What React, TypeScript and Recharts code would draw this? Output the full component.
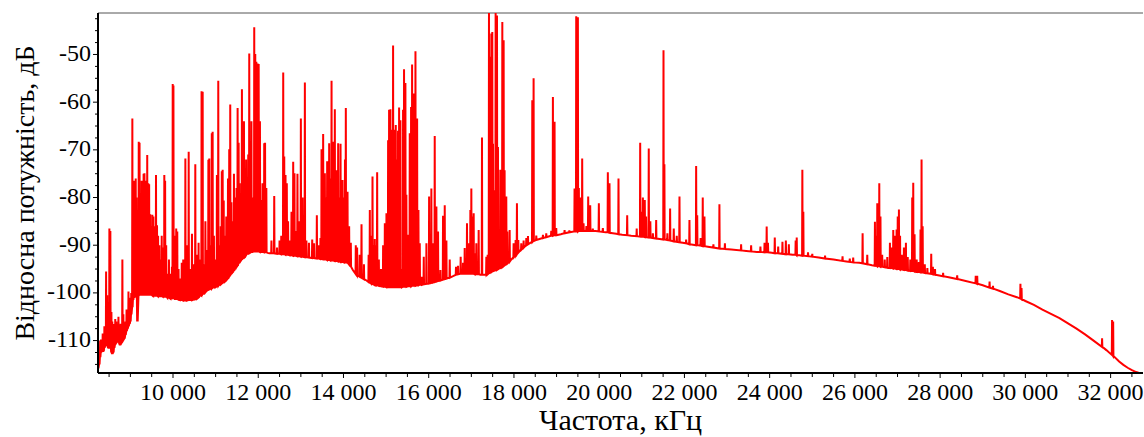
import { LineChart, Line, XAxis, YAxis, ReferenceLine } from "recharts";

// each mark: [frequency kHz, floor dB] or [frequency kHz, floor dB, peak dB]
type Mark = [number, number] | [number, number, number];

const band8: Mark[] = [
  [8250, -115.8],
  [8270, -115, -112],
  [8290, -113.5, -110],
  [8310, -112.5, -109.8],
  [8330, -112, -110],
  [8350, -112.2, -108.5],
  [8370, -112.2, -109.5],
  [8390, -111.5, -107],
  [8410, -111.2, -108.5],
  [8430, -110.5, -95.5],
  [8455, -110.8, -100.5],
  [8480, -111.5, -104],
  [8507, -111.5, -86.5],
  [8530, -110.5, -87],
  [8555, -112.5, -104],
  [8575, -112.8, -106],
  [8600, -112.5, -108],
  [8620, -111.5, -106.5],
  [8645, -110.8, -105.5],
  [8670, -110.5, -106],
  [8695, -110.2, -107.5],
  [8720, -109.8, -105],
  [8745, -110.8, -108],
  [8770, -110.8, -106.5],
  [8812, -110.2, -93],
  [8835, -109.8, -104.5],
  [8860, -109.6, -107.5],
  [8885, -108.8, -106],
  [8910, -108, -103.5],
  [8935, -107.5, -104.5],
  [8955, -107, -99.7],
  [8980, -106.5, -101],
  [9000, -106, -102],
  [9020, -104.5, -100],
];

const band9: Mark[] = [
  [9046, -103, -63.4],
  [9065, -101.5, -80],
  [9080, -101, -76.5],
  [9100, -100.8, -92],
  [9125, -100.5, -76],
  [9145, -100.4, -80],
  [9165, -106, -95],
  [9196, -100.5, -68.3],
  [9215, -100.4, -68.5],
  [9240, -100.4, -80],
  [9265, -100.4, -76.5],
  [9290, -100.4, -82],
  [9310, -100.4, -75],
  [9330, -100.4, -74.9],
  [9355, -100.4, -76.5],
  [9380, -100.4, -77],
  [9395, -100.4, -71.1],
  [9420, -100.4, -77],
  [9440, -100.4, -77.2],
  [9465, -100.4, -83.5],
  [9490, -100.4, -86],
  [9515, -100.5, -83.6],
  [9540, -100.6, -84],
  [9565, -100.6, -86],
  [9601, -100.6, -75.3],
  [9625, -100.6, -85.8],
  [9650, -100.7, -88],
  [9680, -100.7, -90],
  [9710, -100.7, -93],
  [9735, -100.7, -88],
  [9765, -100.8, -90.5],
  [9796, -100.8, -75.3],
  [9815, -100.8, -76.5],
  [9840, -100.8, -90],
  [9870, -101, -96],
  [9905, -101, -93],
  [9945, -101.2, -96],
  [9975, -101.2, -94.5],
  [9993, -101, -56.2],
  [10010, -101, -56.5],
  [10040, -101.3, -88],
  [10075, -101.3, -86.5],
  [10100, -101.3, -87.1],
  [10130, -101.4, -95],
  [10170, -101.5, -97],
  [10205, -101.5, -93.7],
  [10240, -101.6, -93],
];

const band10: Mark[] = [
  [10290, -101.6, -71.8],
  [10320, -101.6, -90],
  [10368, -101.5, -70.4],
  [10400, -101.5, -95],
  [10445, -101.5, -87.6],
  [10480, -101.4, -94],
  [10523, -101.3, -73],
  [10560, -101.2, -92],
  [10600, -101, -89.5],
  [10640, -100.5, -93],
  [10670, -100.6, -57.7],
  [10696, -100.2, -57.8],
  [10730, -100.2, -94],
  [10760, -99.8, -85],
  [10800, -99.5, -91],
  [10830, -99.4, -72.1],
  [10851, -99.2, -71.8],
  [10880, -99.1, -90],
  [10910, -99, -66.5],
  [10930, -98.9, -66.2],
  [10960, -98.8, -88],
  [10990, -98.8, -93],
  [11030, -98.6, -75.3],
  [11062, -98.5, -55.5],
  [11090, -98.3, -90],
  [11120, -98.2, -86],
  [11145, -98.1, -74.5],
  [11165, -97.8, -74.2],
  [11190, -97.8, -80.6],
  [11220, -97.5, -88],
  [11250, -97.3, -84],
  [11290, -97, -76],
  [11319, -96.5, -69.9],
  [11343, -96.2, -60.5],
  [11370, -96, -81],
  [11400, -95.7, -85],
  [11430, -95.3, -75],
  [11460, -95, -80],
  [11490, -94.6, -78],
  [11516, -94.3, -61.2],
  [11540, -93.8, -68.5],
  [11565, -93.5, -77],
  [11590, -93.2, -82],
  [11617, -93, -57.3],
  [11640, -92.8, -68.6],
  [11665, -92.5, -64],
  [11690, -92.2, -79],
  [11715, -92, -72],
  [11740, -91.8, -80],
  [11765, -91.8, -71],
  [11789, -91.6, -49.8],
  [11815, -91.5, -68.7],
  [11840, -91.4, -64],
  [11865, -91.4, -80],
  [11906, -91.3, -44.3],
  [11930, -91.3, -49.9],
  [11955, -91.3, -51.5],
  [11985, -91.3, -51.9],
  [12010, -91.3, -52],
  [12040, -91.4, -64],
  [12070, -91.4, -80.5],
  [12100, -91.4, -77],
  [12140, -91.5, -68.6],
  [12160, -91.5, -68.5],
  [12190, -91.5, -78],
  [12220, -91.6],
];

const band12: Mark[] = [
  [12260, -91.7],
  [12310, -91.7, -89],
  [12375, -91.7, -79.7],
  [12440, -91.8, -90.5],
  [12500, -91.8, -89],
  [12540, -91.9, -88],
  [12586, -91.9, -53.8],
  [12610, -91.9, -71.4],
  [12640, -92, -75.3],
  [12670, -92, -77],
  [12700, -92, -85],
  [12740, -92.1, -89],
  [12780, -92.1, -83],
  [12820, -92.2, -72.5],
  [12850, -92.2, -74.9],
  [12880, -92.2, -87],
  [12920, -92.3, -75],
  [12960, -92.3, -85],
  [13000, -92.4, -63.4],
  [13040, -92.4, -80],
  [13094, -92.5, -55.9],
  [13130, -92.5, -89],
  [13190, -92.6, -89.5],
  [13266, -92.7, -88.8],
  [13310, -92.7, -89.6],
  [13375, -92.8, -83.7],
  [13420, -92.8, -90],
  [13460, -92.9, -88.5],
  [13485, -92.9, -69.9],
  [13505, -92.9, -78],
  [13523, -93, -66.7],
  [13563, -93, -74.9],
  [13590, -93, -80],
  [13617, -93.1, -72.4],
  [13664, -93.1, -68.6],
  [13695, -93.2, -76],
  [13720, -93.2, -55.5],
  [13758, -93.2, -68.3],
  [13797, -93.3, -61.5],
  [13837, -93.3, -74.3],
  [13875, -93.4, -68.6],
  [13900, -93.4, -80],
  [13931, -93.5, -68.7],
  [13978, -93.5, -76.3],
  [14015, -93.6, -80],
  [14035, -93.6, -72],
  [14055, -93.6, -61.2],
  [14095, -93.7, -78.8],
  [14133, -94, -86],
  [14172, -94.5, -89.5],
  [14220, -95.2],
];

const band14: Mark[] = [
  [14260, -95.7],
  [14289, -96, -90],
  [14320, -96.3, -90.5],
  [14380, -96.6, -92],
  [14423, -96.8, -85.6],
  [14480, -97.1, -94],
  [14540, -97.4],
  [14590, -97.7, -92],
  [14618, -97.8, -82.6],
  [14650, -98, -88],
  [14681, -98.1, -75.6],
  [14710, -98.2, -90],
  [14735, -98.3, -88.7],
  [14765, -98.4, -90],
  [14790, -98.4, -74.7],
  [14830, -98.5, -93],
  [14880, -98.6, -95],
  [14930, -98.7, -90],
  [14970, -98.7, -85.4],
  [15008, -98.8, -83.3],
  [15047, -98.8, -68],
  [15070, -98.8, -61.6],
  [15102, -98.8, -61.5],
  [15133, -98.8, -65.8],
  [15164, -98.8, -48.1],
  [15195, -98.8, -65.8],
  [15227, -98.8, -64.8],
  [15258, -98.8, -72],
  [15280, -98.8, -66],
  [15305, -98.8, -61.1],
  [15336, -98.8, -63.8],
  [15367, -98.8, -95],
  [15398, -98.7, -61.6],
  [15421, -98.7, -53.1],
  [15453, -98.7, -56],
  [15476, -98.7, -79.4],
  [15515, -98.6, -87.8],
  [15555, -98.6, -66.5],
  [15586, -98.6, -61],
  [15610, -98.5, -52.1],
  [15649, -98.5, -58.2],
  [15689, -98.5, -49.3],
  [15728, -98.4, -63.4],
  [15759, -98.4, -82.6],
  [15790, -98.3, -89.6],
  [15837, -98.3, -96.6],
  [15884, -98.2, -92.4],
  [15946, -98.1, -89.6],
  [16009, -98, -79.8],
  [16062, -97.9, -78.1],
  [16102, -97.8, -89.6],
  [16141, -97.7, -67.1],
  [16180, -97.6, -81.9],
  [16219, -97.5, -87.1],
  [16274, -97.4, -95.2],
  [16336, -97.2, -83.8],
  [16376, -97.1, -81.6],
  [16415, -97, -89],
  [16493, -96.8, -93],
];

const band16: Mark[] = [
  [16571, -96.5],
  [16640, -96.2, -94.5],
  [16688, -96.1, -94.3],
  [16750, -96, -92.4],
  [16805, -96, -93.7],
  [16844, -96, -90.6],
  [16898, -96, -85.4],
  [16945, -96, -89.6],
  [16977, -96, -82.6],
  [17000, -96, -78.1],
  [17031, -96, -84],
  [17055, -96, -83.3],
  [17086, -96.1, -91.7],
  [17117, -96.1, -89.6],
  [17172, -96.1, -86.8],
  [17211, -96.2],
  [17250, -96.2, -67.4],
  [17297, -96.2],
  [17352, -96.2, -92.4],
  [17383, -96, -92],
  [17414, -95.8, -41.3],
  [17438, -95.7, -50.5],
  [17469, -95.6, -45.6],
  [17492, -95.5, -45.3],
  [17508, -95.4, -68.7],
  [17539, -95.3, -78.5],
  [17570, -95.2, -41.3],
  [17602, -95.1, -41.8],
  [17625, -95, -69.4],
  [17648, -94.9],
  [17680, -94.8, -74.2],
  [17703, -94.6, -82.6],
  [17727, -94.5, -43.2],
  [17758, -94.3, -47],
  [17781, -94.2, -74.3],
  [17820, -94, -79.8],
  [17844, -93.8, -87.1],
  [17899, -93.4, -86.8],
  [17938, -93],
  [17992, -92.5, -89.6],
  [18039, -92.1, -88.9],
  [18070, -91.8, -81.2],
  [18102, -91.5, -88.9],
  [18172, -90.9, -89.6],
  [18227, -90.5, -89],
  [18290, -90, -88.5],
  [18329, -89.8, -88.1],
  [18400, -89.4],
  [18430, -89.3, -59.6],
  [18461, -89.1, -55],
  [18524, -88.9, -88],
  [18600, -88.7],
  [18680, -88.5, -87.8],
  [18758, -88.3, -87.5],
  [18875, -88, -87],
  [18914, -88, -58.9],
  [18953, -87.9, -64.1],
  [18992, -87.9, -86.4],
  [19100, -87.7],
  [19188, -87.5, -86.8],
  [19300, -87.3, -86.9],
  [19422, -87.1, -78.1],
  [19461, -87.1, -42],
  [19500, -87.1, -42.2],
  [19523, -87, -78],
  [19560, -87, -80],
  [19601, -87, -71.8],
  [19633, -87, -85.4],
  [19700, -87, -86],
  [19742, -87, -79.8],
  [19789, -87, -81.6],
  [19850, -87, -86.5],
  [19920, -87],
  [19992, -87.1, -81.2],
  [20086, -87.2, -86.4],
  [20150, -87.3],
  [20203, -87.3, -74.7],
  [20242, -87.4, -77],
  [20320, -87.5],
  [20400, -87.6],
  [20453, -87.7, -76],
];

const band20: Mark[] = [
  [20540, -87.8],
  [20657, -87.9, -83.7],
  [20750, -88],
  [20880, -88.1, -86.5],
  [20962, -88.2, -68.5],
  [20990, -88.2, -83],
  [21025, -88.2, -80],
  [21070, -88.3, -80.5],
  [21100, -88.3, -84],
  [21163, -88.4, -69.7],
  [21200, -88.4, -85],
  [21260, -88.5, -87.5],
  [21337, -88.6, -84.7],
  [21420, -88.7],
  [21509, -88.8, -49.1],
  [21530, -88.8, -73],
  [21600, -88.9, -87.5],
  [21664, -89, -82.3],
  [21750, -89.2, -86.5],
  [21820, -89.3, -88],
  [21884, -89.4, -79.8],
  [21960, -89.5],
  [22040, -89.6, -88.8],
  [22118, -89.8, -84.7],
  [22200, -89.9],
  [22275, -90, -73.4],
  [22300, -90, -83.7],
  [22380, -90.1, -88.5],
  [22430, -90.2, -80],
  [22470, -90.2, -84],
  [22550, -90.3],
  [22680, -90.5, -89.8],
  [22821, -90.7, -81.4],
  [22950, -90.8, -89.6],
  [23100, -90.9],
  [23330, -91.1, -89.8],
  [23450, -91.2],
  [23565, -91.3, -90],
  [23700, -91.4],
  [23783, -91.4, -90.3],
  [23880, -91.5, -89.5],
  [23930, -91.5, -86.1],
  [23960, -91.5, -89.5],
  [24050, -91.6],
  [24120, -91.7, -88.4],
  [24200, -91.7, -90.3],
  [24300, -91.8, -89.3],
  [24380, -91.9, -89],
  [24450, -91.9, -89.8],
  [24540, -92],
  [24610, -92, -89],
  [24635, -92.1, -88.4],
  [24700, -92.1],
  [24767, -92.2, -74.2],
  [24790, -92.2, -83],
  [24900, -92.3, -91.5],
  [25000, -92.4, -91.8],
  [25150, -92.6],
  [25300, -92.8, -92.2],
  [25500, -93],
  [25710, -93.3, -92.3],
  [25800, -93.4],
  [25880, -93.5, -92.8],
  [25960, -93.6, -92.6],
  [26100, -93.7],
  [26181, -93.8, -87.5],
  [26290, -94, -92],
  [26400, -94.2],
  [26470, -94.3, -85.1],
  [26500, -94.3, -88],
  [26525, -94.4, -81.2],
  [26550, -94.4, -84],
  [26572, -94.4, -77],
  [26600, -94.5, -84],
  [26640, -94.5, -92],
  [26700, -94.6, -93],
  [26760, -94.7, -92.5],
  [26822, -94.8, -89.5],
  [26860, -94.8, -90.5],
  [26900, -94.9, -86.8],
  [26940, -94.9, -88],
  [26978, -95, -86.7],
  [27005, -95, -84],
  [27033, -95, -82.5],
  [27060, -95.1, -88],
  [27100, -95.1, -92],
  [27150, -95.2, -90.5],
  [27197, -95.2, -89.5],
  [27240, -95.3, -92.5],
  [27300, -95.4, -93],
  [27345, -95.4, -80],
  [27369, -95.4, -76.9],
  [27400, -95.5, -87.7],
  [27450, -95.6, -93],
  [27500, -95.6, -93.5],
  [27540, -95.7, -86.7],
  [27564, -95.7, -72],
  [27590, -95.7, -86],
  [27640, -95.8, -94],
  [27700, -95.9, -94.8],
  [27791, -96, -91.8],
  [27830, -96.1, -94.5],
  [27880, -96.2, -95],
  [27950, -96.3],
  [28070, -96.5, -95.8],
];

const tail: Mark[] = [
  [28200, -96.7],
  [28400, -97.1, -96.3],
  [28600, -97.5],
  [28835, -98, -96.4],
  [28870, -98.1, -96.4],
  [29000, -98.4],
  [29160, -98.9, -97.6],
  [29240, -99.1, -98.5],
  [29400, -99.6],
  [29600, -100.3],
  [29800, -100.9],
  [29884, -101.2, -98.1],
  [29910, -101.3, -99],
  [30000, -101.7],
  [30200, -102.5],
  [30400, -103.5],
  [30600, -104.4],
  [30800, -105.3],
  [31000, -106.4],
  [31200, -107.5],
  [31400, -108.7],
  [31600, -110],
  [31800, -111.3, -109.5],
  [31900, -112],
  [32034, -113, -105.7],
  [32060, -113.2, -106],
  [32200, -114.4],
  [32300, -115.1],
  [32400, -115.7],
  [32500, -116.2],
  [32600, -116.6],
  [32700, -116.9],
  [32760, -117],
];

const xMajorTicks = [10000, 12000, 14000, 16000, 18000, 20000, 22000, 24000, 26000, 28000, 30000, 32000];
const xTickLabels = ["10 000", "12 000", "14 000", "16 000", "18 000", "20 000", "22 000", "24 000", "26 000", "28 000", "30 000", "32 000"];
const yMajorTicks = [-50, -60, -70, -80, -90, -100, -110];
const yTickLabels = ["-50", "-60", "-70", "-80", "-90", "-100", "-110"];

const X_DOMAIN: [number, number] = [8240, 32760];
const Y_DOMAIN: [number, number] = [-116.8, -41.3];
const FONT = "Liberation Serif";

function buildSpectrum(bands: Mark[][]) {
  const out: { f: number; db: number }[] = [];
  for (const band of bands) {
    for (const m of band) {
      if (m.length === 2) {
        out.push({ f: m[0], db: m[1] });
      } else {
        out.push({ f: m[0] - 6, db: m[1] });
        out.push({ f: m[0], db: m[2] });
        out.push({ f: m[0] + 6, db: m[1] });
      }
    }
  }
  return out;
}

const data = buildSpectrum([band8, band9, band10, band12, band14, band16, band20, tail]);

const xTicks: number[] = [];
for (let v = 8500; v <= 32500; v += 500) xTicks.push(v);
const yTicks: number[] = [];
for (let v = -115; v <= -42.5; v += 2.5) yTicks.push(v);

const XTick = (props: any) => {
  const { x, y, payload } = props;
  const idx = xMajorTicks.indexOf(payload.value);
  const major = idx >= 0;
  return (
    <g>
      <line x1={x} x2={x} y1={y} y2={y + (major ? 5 : 4)} stroke="#000" strokeWidth={1} />
      {major && (
        <text x={x} y={y + 27} textAnchor="middle" fontSize={24} fontFamily={FONT} fill="#000">
          {xTickLabels[idx]}
        </text>
      )}
    </g>
  );
};

const YTick = (props: any) => {
  const { x, y, payload } = props;
  const idx = yMajorTicks.indexOf(payload.value);
  const major = idx >= 0;
  return (
    <g>
      <line x1={x} x2={x - (major ? 5 : 3)} y1={y} y2={y} stroke="#000" strokeWidth={1} />
      {major && (
        <text x={x - 7} y={y + 6.5} textAnchor="end" fontSize={24} fontFamily={FONT} fill="#000">
          {yTickLabels[idx]}
        </text>
      )}
    </g>
  );
};

const XTitle = (props: any) => {
  const vb = props.viewBox || { x: 98, y: 373, width: 1045, height: 64 };
  return (
    <text x={vb.x + vb.width / 2} y={vb.y + 57} textAnchor="middle" fontSize={30} fontFamily={FONT} fill="#000">
      Частота, кГц
    </text>
  );
};

const YTitle = (props: any) => {
  const vb = props.viewBox || { x: 0, y: 13, width: 98, height: 360 };
  const cx = vb.x + 34;
  const cy = vb.y + vb.height / 2;
  return (
    <text
      x={cx}
      y={cy}
      transform={`rotate(-90, ${cx}, ${cy})`}
      textAnchor="middle"
      fontSize={28}
      fontFamily={FONT}
      fill="#000"
    >
      Відносна потужність, дБ
    </text>
  );
};

export default function App() {
  return (
    <div style={{ position: "absolute", left: 0, top: 0, width: 1144, height: 437, background: "#fff" }}>
      <LineChart width={1144} height={437} data={data} margin={{ top: 13, right: 1, bottom: 0, left: 0 }}>
        <XAxis
          dataKey="f"
          type="number"
          domain={X_DOMAIN}
          allowDataOverflow
          ticks={xTicks}
          interval={0}
          tick={<XTick />}
          tickLine={false}
          tickSize={0}
          tickMargin={0}
          height={64}
          axisLine={{ stroke: "#000", strokeWidth: 2 }}
          label={<XTitle />}
        />
        <YAxis
          type="number"
          domain={Y_DOMAIN}
          allowDataOverflow
          ticks={yTicks}
          interval={0}
          tick={<YTick />}
          tickLine={false}
          tickSize={0}
          tickMargin={0}
          width={98}
          axisLine={{ stroke: "#000", strokeWidth: 2 }}
          label={<YTitle />}
        />
        <ReferenceLine y={Y_DOMAIN[1]} stroke="#555" strokeWidth={1} />
        <Line
          type="linear"
          dataKey="db"
          stroke="#ff0000"
          strokeWidth={2}
          dot={false}
          isAnimationActive={false}
        />
      </LineChart>
    </div>
  );
}
